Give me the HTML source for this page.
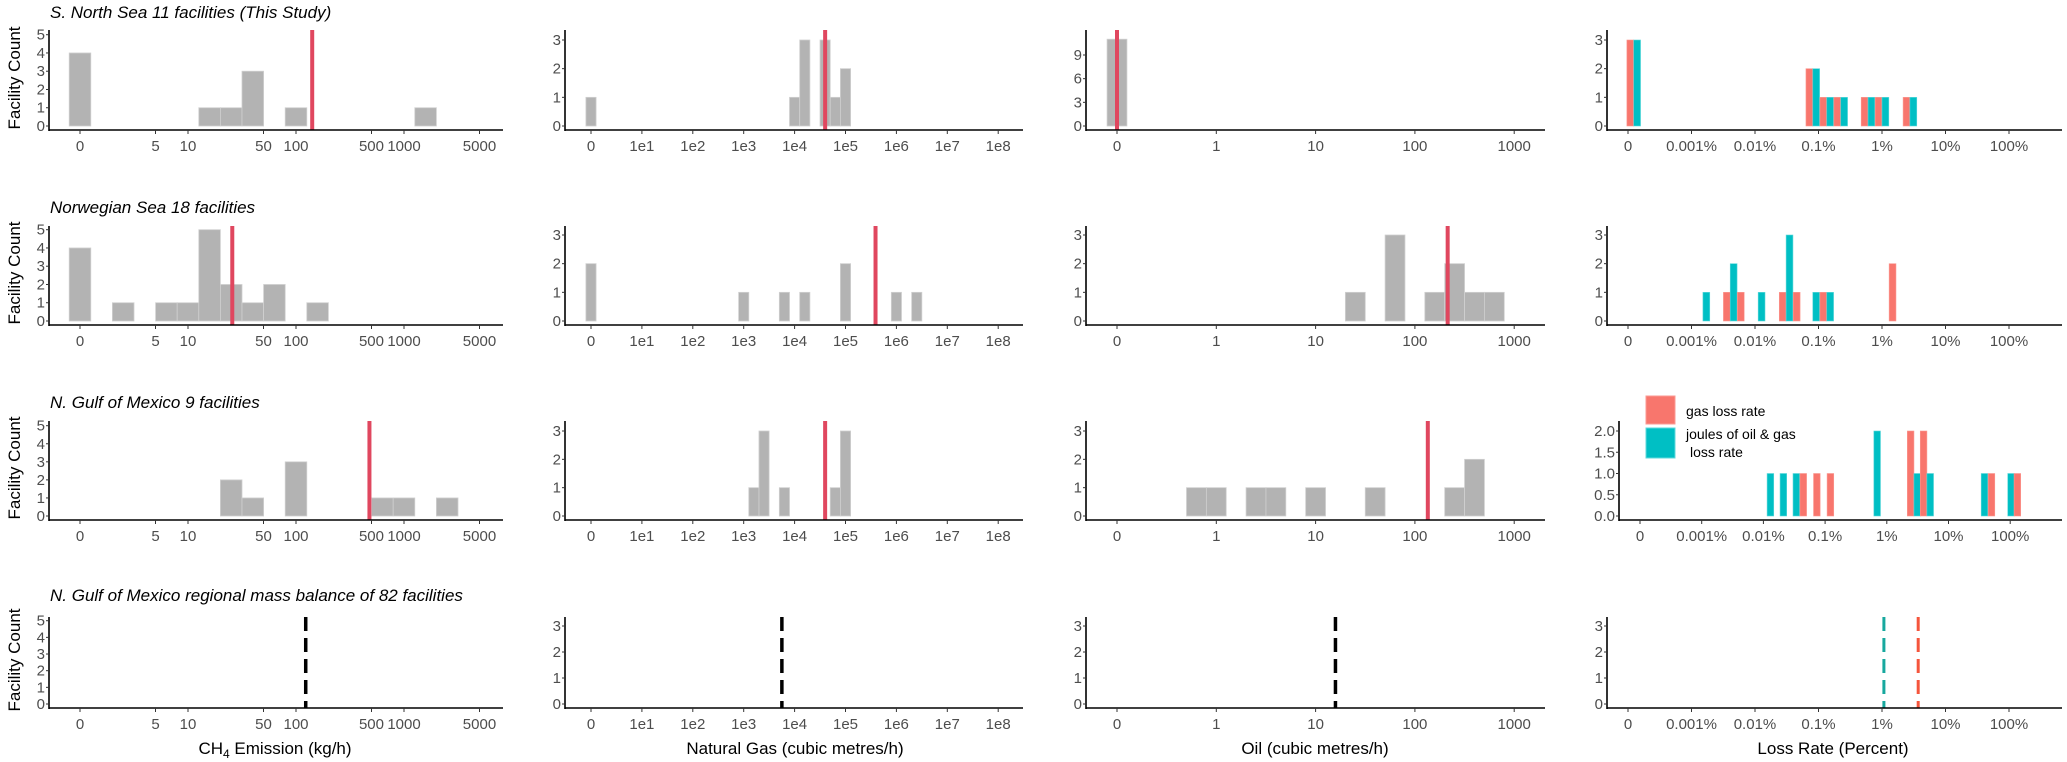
<!DOCTYPE html>
<html><head><meta charset="utf-8">
<style>
body{margin:0;background:#fff;}
svg{display:block;font-family:"Liberation Sans",Arial,sans-serif;}
.tk{font-size:15px;fill:#4d4d4d;}
.ttl{font-size:17px;font-style:italic;fill:#000;}
.ax{font-size:17px;fill:#000;}
.lg{font-size:14px;fill:#000;}
</style></head>
<body>
<svg id="chart" width="2067" height="762" viewBox="0 0 2067 762"></svg>
<script>
// ---- data (log-scale bin centres in axis units, counts) ----
// Column 1: CH4 emission (axis unit = log10 kg/h, 0 label at 0)
const ch4TickLabels=["0","5","10","50","100","500","1000","5000"];
const ch4TickValues=[0,5,10,50,100,500,1000,5000];
const r1Ch4Bins=[0,1.2,1.4,1.6,2.0,3.2]; const r1Ch4Counts=[4,1,1,3,1,1]; const r1Ch4Mean=2.15;
const r2Ch4Bins=[0,0.4,0.8,1.0,1.2,1.4,1.6,1.8,2.2]; const r2Ch4Counts=[4,1,1,1,5,2,1,2,1]; const r2Ch4Mean=1.41;
const r3Ch4Bins=[1.4,1.6,2.0,2.8,3.0,3.4]; const r3Ch4Counts=[2,1,3,1,1,1]; const r3Ch4Mean=2.68;
const r4Ch4Mean=2.09;
// Column 2: natural gas
const gasTickLabels=["0","1e1","1e2","1e3","1e4","1e5","1e6","1e7","1e8"];
const gasTickValues=[0,1e1,1e2,1e3,1e4,1e5,1e6,1e7,1e8];
const r1GasBins=[0,4.0,4.2,4.6,4.8,5.0]; const r1GasCounts=[1,1,3,3,1,2]; const r1GasMean=4.6;
const r2GasBins=[0,3.0,3.8,4.2,5.0,6.0,6.4]; const r2GasCounts=[2,1,1,1,2,1,1]; const r2GasMean=5.59;
const r3GasBins=[3.2,3.4,3.8,4.8,5.0]; const r3GasCounts=[1,3,1,1,3]; const r3GasMean=4.6;
const r4GasMean=3.75;
// Column 3: oil
const oilTickLabels=["0","1","10","100","1000"];
const oilTickValues=[0,1,10,100,1000];
const r1OilBins=[0]; const r1OilCounts=[11]; const r1OilMean=0;
const r2OilBins=[2.4,2.8,3.2,3.4,3.6,3.8]; const r2OilCounts=[1,3,1,2,1,1]; const r2OilMean=3.33;
const r3OilBins=[0.8,1.0,1.4,1.6,2.0,2.6,3.4,3.6]; const r3OilCounts=[1,1,1,1,1,1,1,2]; const r3OilMean=3.13;
const r4OilMean=2.2;
// Column 4: loss rate (gas = red, joules = teal)
const lossTickLabels=["0","0.001%","0.01%","0.1%","1%","10%","100%"];
const lossTickValues=[0,0.001,0.01,0.1,1,10,100];
const r1LossBins=[0.09,2.91,3.13,3.35,3.78,4.0,4.44]; const r1GasLoss=[3,2,1,1,1,1,1]; const r1JouleLoss=[3,2,1,1,1,1,1];
const r2LossBins=[1.18,1.61,1.83,2.05,2.49,2.71,2.91,3.13,4.22]; const r2GasLoss=[0,1,1,0,1,1,0,1,2]; const r2JouleLoss=[1,2,0,1,3,0,1,1,0];
const r3LossBins=[2.06,2.27,2.48,2.70,2.92,3.14,3.79,4.44,4.65,5.53,5.75,5.96,6.17]; const r3GasLoss=[0,0,0,1,1,1,0,2,2,0,1,0,1]; const r3JouleLoss=[1,1,1,0,0,0,2,1,1,1,0,1,0];
const r4GasLossMean=4.57; const r4JouleLossMean=4.03;

const NS="http://www.w3.org/2000/svg";
const svg=document.getElementById('chart');
function mk(tag,attrs,parent){const e=document.createElementNS(NS,tag);for(const k in attrs)e.setAttribute(k,attrs[k]);(parent||svg).appendChild(e);return e;}

const rows=[{y0:126,top:30},{y0:321,top:226},{y0:516,top:421},{y0:704,top:617}];
const cols=[
 {ax:49,x0:80,s:108,end:503,tickV:ch4TickValues,tickL:ch4TickLabels,conv:v=>v===0?0:Math.log10(v),bw:0.2},
 {ax:565,x0:591,s:50.9,end:1023,tickV:gasTickValues,tickL:gasTickLabels,conv:v=>v===0?0:Math.log10(v),bw:0.2},
 {ax:1086,x0:1117,s:99.3,end:1545,tickV:oilTickValues,tickL:oilTickLabels,conv:v=>v===0?0:Math.log10(v)+1,bw:0.2},
 {ax:1607,x0:1628,s:63.5,end:2062,tickV:lossTickValues,tickL:lossTickLabels,conv:v=>v===0?0:Math.log10(v)+4,bw:0.215}
];

function panel(ri,ci,yTicks,yMax,yTopPix,opts){
  const r=rows[ri]; const c=Object.assign({},cols[ci],opts.colOverride||{});
  const g=mk('g',{});
  
  
  const X=v=>c.x0+v*c.s;
  const Y=v=>r.y0-v*(r.y0-yTopPix)/yMax;
  if(opts.bins){
    opts.bins.forEach((b,i)=>{
      const n=opts.counts[i]; if(!n)return;
      const w=c.bw*c.s;
      const rc=mk('rect',{x:X(b)-w/2,y:Y(n),width:w,height:Y(0)-Y(n),fill:'#b3b3b3',stroke:'#d0d0d0','stroke-width':0.8},g);
      
      
    });
  }
  if(opts.pairBins){
    const w=c.bw*c.s/2;
    opts.pairBins.forEach((b,i)=>{
      const a=opts.red[i], t=opts.teal[i];
      if(a){const e=mk('rect',{x:X(b)-w,y:Y(a),width:w,height:Y(0)-Y(a),fill:'#f8766d',stroke:'#fb9a93','stroke-width':0.6},g);
        
        }
      if(t){const e=mk('rect',{x:X(b),y:Y(t),width:w,height:Y(0)-Y(t),fill:'#00bfc4',stroke:'#5fd8db','stroke-width':0.6},g);
        
        }
    });
  }
  if(opts.mean!==undefined){
    const l=mk('line',{x1:X(opts.mean),x2:X(opts.mean),y1:r.top,y2:r.y0+4,stroke:'#e0475f','stroke-width':4},g);
    
    
  }
  (opts.dashed||[]).forEach(d=>{
    const l=mk('line',{x1:X(d.v),x2:X(d.v),y1:r.top,y2:r.y0+4,stroke:d.color,'stroke-width':d.w||3.5,'stroke-dasharray':'14 7'},g);
    
    
  });
  const ay=mk('line',{x1:c.ax,x2:c.ax,y1:r.top,y2:r.y0+5,stroke:'#000','stroke-width':1.6},g);
  
  
  const axl=mk('line',{x1:c.ax,x2:c.end,y1:r.y0+4,y2:r.y0+4,stroke:'#000','stroke-width':1.6},g);
  
  
  yTicks.forEach(t=>{
    mk('line',{x1:c.ax-3,x2:c.ax,y1:Y(t),y2:Y(t),stroke:'#333','stroke-width':1},g);
    const tx=mk('text',{x:c.ax-4,y:Y(t)+5,'text-anchor':'end',class:'tk'},g);
    tx.textContent=opts.yFmt?opts.yFmt(t):String(t);
    
    
  });
  c.tickV.forEach((tv,i)=>{
    const x=X(c.conv(tv));
    mk('line',{x1:x,x2:x,y1:r.y0+4,y2:r.y0+8,stroke:'#333','stroke-width':1},g);
    const tx=mk('text',{x:x,y:r.y0+25,'text-anchor':'middle',class:'tk'},g);
    tx.textContent=c.tickL[i];
    
    
  });
}

const i5=[0,1,2,3,4,5], i3=[0,1,2,3];
panel(0,0,i5,5,34.7,{bins:r1Ch4Bins,counts:r1Ch4Counts,mean:r1Ch4Mean});
panel(0,1,i3,3,40,{bins:r1GasBins,counts:r1GasCounts,mean:r1GasMean});
panel(0,2,[0,3,6,9],9,55,{bins:r1OilBins,counts:r1OilCounts,mean:r1OilMean});
panel(0,3,i3,3,40,{pairBins:r1LossBins,red:r1GasLoss,teal:r1JouleLoss});
panel(1,0,i5,5,229.7,{bins:r2Ch4Bins,counts:r2Ch4Counts,mean:r2Ch4Mean});
panel(1,1,i3,3,235,{bins:r2GasBins,counts:r2GasCounts,mean:r2GasMean});
panel(1,2,i3,3,235,{bins:r2OilBins,counts:r2OilCounts,mean:r2OilMean});
panel(1,3,i3,3,235,{pairBins:r2LossBins,red:r2GasLoss,teal:r2JouleLoss});
panel(2,0,i5,5,425.7,{bins:r3Ch4Bins,counts:r3Ch4Counts,mean:r3Ch4Mean});
panel(2,1,i3,3,431,{bins:r3GasBins,counts:r3GasCounts,mean:r3GasMean});
panel(2,2,i3,3,431,{bins:r3OilBins,counts:r3OilCounts,mean:r3OilMean});
panel(2,3,[0,0.5,1,1.5,2],2,431,{pairBins:r3LossBins,red:r3GasLoss,teal:r3JouleLoss,yFmt:t=>t.toFixed(1),colOverride:{ax:1619,x0:1640,s:61.7}});
panel(3,0,i5,5,620.7,{dashed:[{v:r4Ch4Mean,color:'#000'}]});
panel(3,1,i3,3,626,{dashed:[{v:r4GasMean,color:'#000'}]});
panel(3,2,i3,3,626,{dashed:[{v:r4OilMean,color:'#000'}]});
panel(3,3,i3,3,626,{dashed:[{v:r4JouleLossMean,color:'#17a89e',w:3},{v:r4GasLossMean,color:'#f5553c',w:3}]});
</script>
<script>
(function(){
const NS="http://www.w3.org/2000/svg";const svg=document.getElementById('chart');
function t(x,y,txt,cls,name,extra){const e=document.createElementNS(NS,'text');e.setAttribute('x',x);e.setAttribute('y',y);e.setAttribute('class',cls);if(extra)for(const k in extra)e.setAttribute(k,extra[k]);e.textContent=txt;


svg.appendChild(e);return e;}
t(50,18,"S. North Sea 11 facilities (This Study)","ttl","row-title-north-sea");
t(50,213,"Norwegian Sea 18 facilities","ttl","row-title-norwegian-sea");
t(50,408,"N. Gulf of Mexico 9 facilities","ttl","row-title-gulf-of-mexico");
t(50,601,"N. Gulf of Mexico regional mass balance of 82 facilities","ttl","row-title-gulf-regional");
[78,273,468,660].forEach(c=>{t(0,0,"Facility Count","ax","y-axis-title",{transform:"translate(20,"+c+") rotate(-90)","text-anchor":"middle"});});
const ch=t(275,754,"","ax","x-axis-title-ch4",{"text-anchor":"middle"});
ch.innerHTML='CH<tspan font-size="12" dy="4">4</tspan><tspan dy="-4"> Emission (kg/h)</tspan>';
t(795,754,"Natural Gas (cubic metres/h)","ax","x-axis-title-gas",{"text-anchor":"middle"});
t(1315,754,"Oil (cubic metres/h)","ax","x-axis-title-oil",{"text-anchor":"middle"});
t(1833,754,"Loss Rate (Percent)","ax","x-axis-title-loss",{"text-anchor":"middle"});
const lg=document.createElementNS(NS,'g');


svg.appendChild(lg);
function r(x,y,w,h,f,s,name){const e=document.createElementNS(NS,'rect');e.setAttribute('x',x);e.setAttribute('y',y);e.setAttribute('width',w);e.setAttribute('height',h);e.setAttribute('fill',f);e.setAttribute('stroke',s);


lg.appendChild(e);}
r(1646,396,29,28,'#f8766d','#fb9a93','legend-swatch-gas');
r(1646,428,29,30,'#00bfc4','#5fd8db','legend-swatch-joules');
t(1686,416,"gas loss rate","lg","legend-label-gas");
t(1686,439,"joules of oil & gas","lg","legend-label-joules");
t(1690,457,"loss rate","lg","legend-label-joules-2");
})();
</script>
</body></html>
